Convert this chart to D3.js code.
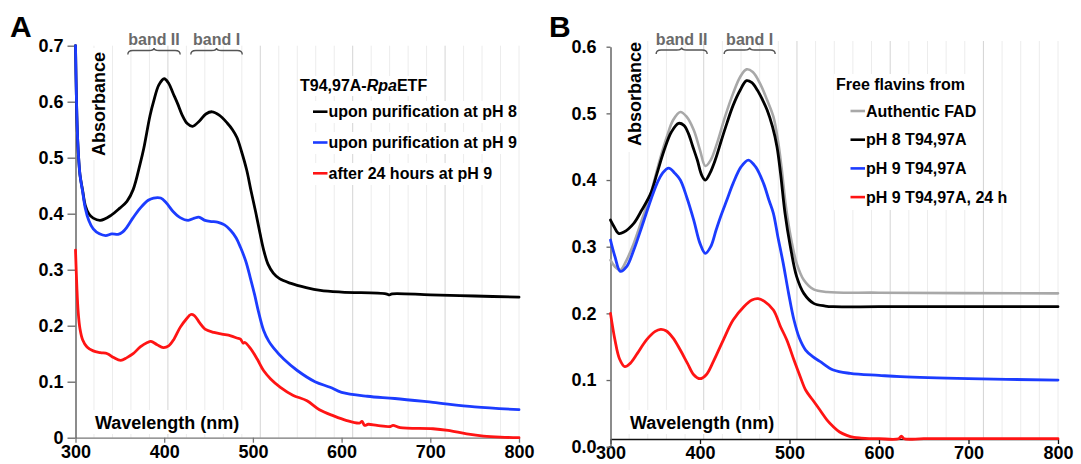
<!DOCTYPE html>
<html><head><meta charset="utf-8">
<script src="https://cdn.jsdelivr.net/npm/d3@7"></script>
<style>
body{margin:0;background:#fff;}
text{font-family:"Liberation Sans",Arial,Helvetica,sans-serif;font-weight:bold;}
</style>
</head><body>
<svg id="c" width="1081" height="464"></svg>
<script>
// ---------------- DATA ----------------
const xTickValues = [300, 400, 500, 600, 700, 800];
const yTicksA = [0, 0.1, 0.2, 0.3, 0.4, 0.5, 0.6, 0.7];
const yTickLabelsA = ["0", "0.1", "0.2", "0.3", "0.4", "0.5", "0.6", "0.7"];
const yTicksB = [0, 0.1, 0.2, 0.3, 0.4, 0.5, 0.6];
const yTickLabelsB = ["0.0", "0.1", "0.2", "0.3", "0.4", "0.5", "0.6"];

const bandNames = ["band II", "band I"];
const bandRangesA = [[359, 418], [430, 488]];
const bandRangesB = [[351, 408], [427, 484]];

const legendTitleA = ["T94,97A-", "Rpa", "ETF"];
const legendLabelsA = ["upon purification at pH 8", "upon purification at pH 9", "after 24 hours at pH 9"];
const legendTitleB = "Free flavins from";
const legendLabelsB = ["Authentic FAD", "pH 8 T94,97A", "pH 9 T94,97A", "pH 9 T94,97A, 24 h"];

// Panel A spectra: [wavelength nm, absorbance]
const specA_pH8 = [[300,0.70],[301,0.61],[302.5,0.53],[305,0.47],[308,0.442],[311,0.415],[315,0.4],[320,0.392],[328,0.388],[340,0.397],[350,0.41],[358,0.422],[365,0.443],[373,0.49],[377,0.517],[384,0.575],[388,0.6],[394,0.63],[400,0.641],[405,0.633],[410,0.615],[415,0.597],[420,0.577],[426,0.561],[432,0.556],[440,0.566],[447,0.578],[454,0.582],[462,0.576],[471,0.562],[477,0.55],[482,0.536],[487,0.512],[493,0.478],[498,0.44],[503,0.404],[508,0.365],[512,0.336],[517,0.31],[523,0.294],[530,0.284],[542,0.276],[560,0.268],[576,0.263],[600,0.26],[650,0.257],[654,0.255],[657,0.257],[700,0.255],[750,0.253],[800,0.251]];
const specA_pH9 = [[300,0.70],[301,0.61],[302.5,0.53],[305,0.47],[308,0.44],[311,0.41],[315,0.388],[320,0.373],[327,0.364],[334,0.361],[341,0.364],[348,0.363],[353,0.367],[358,0.376],[365,0.393],[373,0.41],[382,0.424],[388,0.428],[396,0.428],[402,0.42],[410,0.404],[418,0.393],[427,0.388],[434,0.392],[439,0.394],[446,0.388],[453,0.386],[460,0.385],[468,0.38],[475,0.37],[481,0.357],[486,0.34],[492,0.315],[497,0.286],[502,0.255],[506,0.227],[512,0.192],[518,0.172],[523,0.161],[535,0.14],[550,0.12],[570,0.1],[587,0.09],[600,0.081],[629,0.074],[660,0.07],[703,0.063],[750,0.055],[800,0.05]];
const specA_24h = [[300,0.335],[301.5,0.27],[303,0.225],[305,0.195],[308,0.175],[313,0.162],[320,0.155],[328,0.152],[336,0.15],[343,0.143],[351,0.138],[358,0.143],[365,0.15],[373,0.162],[381,0.17],[385,0.172],[392,0.166],[399,0.161],[405,0.164],[411,0.176],[418,0.197],[425,0.212],[430,0.22],[434,0.218],[440,0.205],[446,0.194],[456,0.188],[465,0.185],[475,0.182],[482,0.178],[486,0.176],[489,0.169],[491,0.17],[497,0.16],[505,0.14],[512,0.12],[520,0.105],[531,0.09],[545,0.076],[561,0.066],[575,0.05],[591,0.039],[605,0.031],[620,0.026],[623,0.029],[626,0.022],[630,0.024],[640,0.022],[655,0.02],[658,0.022],[666,0.018],[703,0.016],[720,0.013],[741,0.007],[760,0.003],[779,0.001],[800,0.0]];

// Panel B spectra
const specB_FAD = [[300,0.28],[305,0.27],[311,0.265],[318,0.28],[326,0.305],[335,0.34],[345,0.38],[355,0.43],[363,0.465],[370,0.49],[378,0.502],[385,0.495],[393,0.475],[400,0.445],[406,0.421],[412,0.43],[419,0.455],[428,0.495],[437,0.53],[445,0.555],[452,0.566],[459,0.562],[467,0.545],[475,0.52],[482,0.495],[487,0.46],[491,0.42],[496,0.36],[502,0.31],[508,0.275],[516,0.25],[527,0.236],[542,0.232],[600,0.231],[800,0.23]];
const specB_pH8 = [[300,0.34],[304,0.33],[309,0.32],[315,0.322],[326,0.335],[335,0.355],[345,0.38],[352,0.41],[360,0.445],[368,0.472],[376,0.485],[382,0.482],[387,0.47],[392,0.45],[397,0.43],[402,0.407],[406,0.40],[411,0.41],[417,0.43],[424,0.46],[430,0.485],[437,0.512],[445,0.535],[452,0.549],[458,0.546],[464,0.535],[470,0.52],[475,0.505],[481,0.48],[486,0.45],[490,0.41],[495,0.35],[501,0.30],[508,0.255],[516,0.23],[527,0.215],[540,0.211],[549,0.21],[600,0.21],[700,0.21],[800,0.21]];
const specB_pH9 = [[300,0.31],[305,0.285],[311,0.263],[318,0.27],[326,0.295],[335,0.33],[345,0.37],[352,0.395],[358,0.41],[365,0.418],[372,0.41],[378,0.40],[385,0.375],[393,0.34],[400,0.305],[406,0.29],[412,0.3],[418,0.325],[423,0.345],[430,0.37],[437,0.395],[446,0.42],[454,0.43],[462,0.42],[471,0.395],[477,0.37],[482,0.35],[487,0.315],[493,0.275],[499,0.23],[505,0.19],[511,0.163],[518,0.145],[526,0.135],[534,0.128],[549,0.115],[568,0.11],[600,0.107],[624,0.105],[700,0.102],[800,0.1]];
const specB_24h = [[300,0.2],[305,0.16],[310,0.132],[316,0.12],[322,0.125],[330,0.14],[340,0.16],[350,0.173],[356,0.176],[362,0.174],[370,0.163],[378,0.145],[386,0.125],[393,0.108],[400,0.102],[407,0.108],[415,0.128],[426,0.16],[437,0.19],[449,0.21],[458,0.22],[465,0.222],[472,0.218],[482,0.205],[490,0.18],[497,0.16],[505,0.13],[512,0.105],[518,0.085],[526,0.07],[534,0.055],[542,0.04],[549,0.03],[556,0.022],[564,0.017],[572,0.014],[580,0.013],[600,0.012],[622,0.012],[625,0.016],[628,0.012],[650,0.012],[700,0.012],[750,0.012],[800,0.012]];

// ---------------- DRAW ----------------
const svg = d3.select("#c");
const COLORS = {black: "#000000", blue: "#1c3cff", red: "#ff1414", gray: "#a8a8a8"};

function drawPanel(p) {
  const x = d3.scaleLinear().domain([300, 800]).range([p.x0, p.x1]);
  const y = d3.scaleLinear().domain([0, p.yMax]).range([p.yBottom, p.yTopVal]);
  const g = svg.append("g");

  // vertical gridlines (24 divisions, every 5th darker)
  const gridIdx = d3.range(1, 25);
  g.append("g").selectAll("line").data(gridIdx).join("line")
    .attr("x1", k => x(300 + k * 500 / 24)).attr("x2", k => x(300 + k * 500 / 24))
    .attr("y1", p.gridTop).attr("y2", p.axisY)
    .attr("stroke", k => k % 5 === 0 ? "#d4d4d4" : "#ececec").attr("stroke-width", 1);

  // white backgrounds behind labels inside plot
  p.whiteBoxes.forEach(b => g.append("rect").attr("x", b[0]).attr("y", b[1]).attr("width", b[2]).attr("height", b[3]).attr("fill", "#fff"));

  // x axis
  const xa = g.append("g").attr("transform", `translate(0,${p.axisY})`)
    .call(d3.axisBottom(x).tickValues(xTickValues).tickFormat(d3.format("d")).tickSize(5).tickSizeOuter(0).tickPadding(p.xPad));
  xa.select(".domain").attr("stroke", p.xAxisColor).attr("stroke-width", 1.3);
  xa.selectAll(".tick line").attr("stroke", p.xAxisColor).attr("stroke-width", 1.3);
  xa.selectAll("text").attr("font-size", 18).attr("font-family", "Liberation Sans, Arial, sans-serif").attr("font-weight", "bold").attr("fill", "#000");

  // y axis
  const ya = g.append("g").attr("transform", `translate(${p.x0},0)`)
    .call(d3.axisLeft(y).tickValues(p.yTicks).tickFormat((d, i) => p.yLabels[i]).tickSize(p.yTick).tickSizeOuter(0).tickPadding(p.yPad));
  ya.select(".domain").attr("stroke", "#666").attr("stroke-width", 1.5);
  ya.selectAll(".tick line").attr("stroke", "#666").attr("stroke-width", 1.3);
  ya.selectAll("text").attr("font-size", 18).attr("font-family", "Liberation Sans, Arial, sans-serif").attr("font-weight", "bold").attr("fill", "#000");

  // curves
  const line = d3.line().x(d => x(d[0])).y(d => y(d[1])).curve(d3.curveCatmullRom.alpha(0.5));
  p.series.forEach(s => {
    g.append("path").datum(s.data).attr("d", line).attr("fill", "none")
      .attr("stroke", s.color).attr("stroke-width", s.width || 2.8)
      .attr("stroke-linejoin", "round").attr("stroke-linecap", "round");
  });

  // band labels + braces
  p.bands.forEach((r, i) => {
    const xa1 = x(r[0]), xa2 = x(r[1]), xm = (xa1 + xa2) / 2, yb = p.braceY;
    g.append("path")
      .attr("d", `M${xa1},${yb + 4} Q${xa1},${yb} ${xa1 + 5},${yb} L${xm - 5},${yb} Q${xm},${yb} ${xm},${yb - 2.5} Q${xm},${yb} ${xm + 5},${yb} L${xa2 - 5},${yb} Q${xa2},${yb} ${xa2},${yb + 4}`)
      .attr("fill", "none").attr("stroke", "#555").attr("stroke-width", 1.4);
    g.append("text").attr("x", xm).attr("y", p.bandTextY).attr("text-anchor", "middle")
      .attr("font-size", 16).attr("fill", "#6a6a6a").text(bandNames[i]);
  });

  // axis titles
  g.append("text").attr("transform", `translate(${p.absX},${p.absY}) rotate(-90)`)
    .attr("text-anchor", "middle").attr("font-size", 18).attr("fill", "#000").text("Absorbance");
  g.append("text").attr("x", p.wlX).attr("y", p.wlY).attr("font-size", 18).attr("fill", "#000").text("Wavelength (nm)");

  // panel letter
  g.append("text").attr("x", p.letterX).attr("y", p.letterY).attr("font-size", 30).attr("fill", "#000").text(p.letter);

  // legend
  const lt = g.append("text").attr("x", p.legX).attr("y", p.legTitleY).attr("font-size", 16).attr("fill", "#000");
  if (Array.isArray(p.legTitle)) {
    lt.append("tspan").text(p.legTitle[0]);
    lt.append("tspan").attr("font-style", "italic").text(p.legTitle[1]);
    lt.append("tspan").text(p.legTitle[2]);
  } else lt.text(p.legTitle);
  p.legLabels.forEach((lab, i) => {
    const cy = p.legRow0 + i * p.legStep;
    g.append("line").attr("x1", p.legLineX0).attr("x2", p.legLineX1).attr("y1", cy).attr("y2", cy)
      .attr("stroke", p.series[i].color).attr("stroke-width", 2.6);
    g.append("text").attr("x", p.legLineX1 + 1).attr("y", cy + 5.5).attr("font-size", 16).attr("fill", "#000").text(lab);
  });
}

drawPanel({
  letter: "A", letterX: 10, letterY: 37,
  x0: 75.5, x1: 519, yBottom: 437.7, yTopVal: 45.7, yMax: 0.7, axisY: 437.7, gridTop: 45.7,
  yTicks: yTicksA, yLabels: yTickLabelsA, yTick: 8, yPad: 4, xPad: 3, xAxisColor: "#777",
  series: [
    {data: specA_pH8, color: COLORS.black},
    {data: specA_pH9, color: COLORS.blue},
    {data: specA_24h, color: COLORS.red}
  ],
  bands: bandRangesA, braceY: 50.5, bandTextY: 45,
  absX: 105, absY: 104, wlX: 95, wlY: 429,
  legTitle: legendTitleA, legX: 300, legTitleY: 91,
  legLabels: legendLabelsA, legRow0: 111.7, legStep: 30.8, legLineX0: 313, legLineX1: 327.5,
  whiteBoxes: [[88, 48, 22, 112], [92, 410, 152, 24], [298, 76, 140, 20], [311, 101, 206, 22], [311, 132, 206, 22], [311, 163, 180, 22]]
});

drawPanel({
  letter: "B", letterX: 549, letterY: 37,
  x0: 610.5, x1: 1058, yBottom: 446.7, yTopVal: 46.7, yMax: 0.6, axisY: 439, gridTop: 41,
  yTicks: yTicksB, yLabels: yTickLabelsB, yTick: 4, yPad: 10, xPad: 2, xAxisColor: "#111",
  series: [
    {data: specB_FAD, color: COLORS.gray, width: 2.6},
    {data: specB_pH8, color: COLORS.black},
    {data: specB_pH9, color: COLORS.blue},
    {data: specB_24h, color: COLORS.red}
  ],
  bands: bandRangesB, braceY: 50, bandTextY: 45,
  absX: 641, absY: 94, wlX: 630, wlY: 429,
  legTitle: legendTitleB, legX: 836, legTitleY: 90,
  legLabels: legendLabelsB, legRow0: 111, legStep: 28.7, legLineX0: 850.5, legLineX1: 865,
  whiteBoxes: [[625, 38, 22, 114], [627, 410, 150, 24], [834, 74, 136, 136]]
});
</script>
</body></html>
